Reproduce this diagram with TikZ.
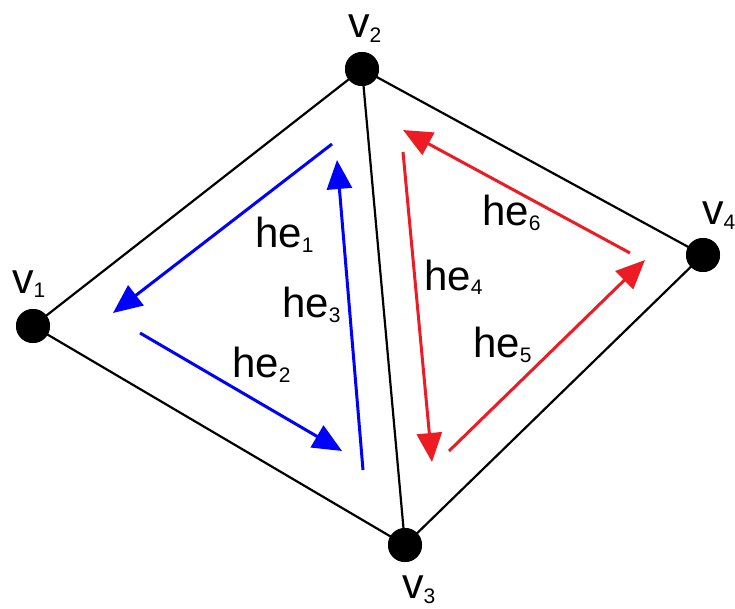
\documentclass[tikz,border=0pt]{standalone}
\usepackage{fontspec}
\setmainfont{Liberation Sans}
\usetikzlibrary{arrows.meta}
\definecolor{hered}{RGB}{237,28,36}
\newcommand{\lbl}[2]{#1\raisebox{-5pt}{\fontsize{21}{24}\selectfont #2}}
\begin{document}
\begin{tikzpicture}[x=1pt,y=-1pt,
  edge/.style={draw=black,line width=2.2pt},
  vdot/.style={circle,fill=black,minimum size=34pt,inner sep=0pt},
  vlab/.style={anchor=base west,inner sep=0pt,font=\fontsize{43}{48}\selectfont},
  hlab/.style={anchor=base west,inner sep=0pt,font=\fontsize{42}{48}\selectfont},
  bluearr/.style={draw=blue,line width=3pt,-{Triangle[length=29pt,width=25pt]}},
  redarr/.style={draw=hered,line width=3pt,-{Triangle[length=29pt,width=25pt]}}]
\useasboundingbox (0,0) rectangle (735,609);
% vertices
\node[vdot] (v1) at (33,326) {};
\node[vdot] (v2) at (362,69) {};
\node[vdot] (v3) at (405,545) {};
\node[vdot] (v4) at (703,255) {};
% edges
\draw[edge] (v1.center) -- (v2.center) -- (v4.center) -- (v3.center) -- (v1.center);
\draw[edge] (v2.center) -- (v3.center);
\node[vdot] at (v1) {};
\node[vdot] at (v2) {};
\node[vdot] at (v3) {};
\node[vdot] at (v4) {};
% vertex labels
\node[vlab] (l1) at (12,293) {\lbl{v}{1}};
\node[vlab] (l2) at (348,38) {\lbl{v}{2}};
\node[vlab] (l3) at (402,598) {\lbl{v}{3}};
\node[vlab] (l4) at (702,225) {\lbl{v}{4}};
% blue half-edges
\coordinate (b1s) at (332,144); \coordinate (b1e) at (113,313);
\coordinate (b2s) at (140,333); \coordinate (b2e) at (342,451);
\coordinate (b3s) at (363,470); \coordinate (b3e) at (337,160);
\draw[bluearr] (b1s) -- (b1e);
\draw[bluearr] (b2s) -- (b2e);
\draw[bluearr] (b3s) -- (b3e);
% red half-edges
\coordinate (r4s) at (403,152); \coordinate (r4e) at (432,462);
\coordinate (r5s) at (449,451); \coordinate (r5e) at (645,260);
\coordinate (r6s) at (630,253); \coordinate (r6e) at (403,130);
\draw[redarr] (r4s) -- (r4e);
\draw[redarr] (r5s) -- (r5e);
\draw[redarr] (r6s) -- (r6e);
% half-edge labels
\node[hlab] (h1) at (255,248) {\lbl{he}{1}};
\node[hlab] (h2) at (232,377) {\lbl{he}{2}};
\node[hlab] (h3) at (282,317) {\lbl{he}{3}};
\node[hlab] (h4) at (424,290) {\lbl{he}{4}};
\node[hlab] (h5) at (473,357) {\lbl{he}{5}};
\node[hlab] (h6) at (482,226) {\lbl{he}{6}};
\end{tikzpicture}
\end{document}
